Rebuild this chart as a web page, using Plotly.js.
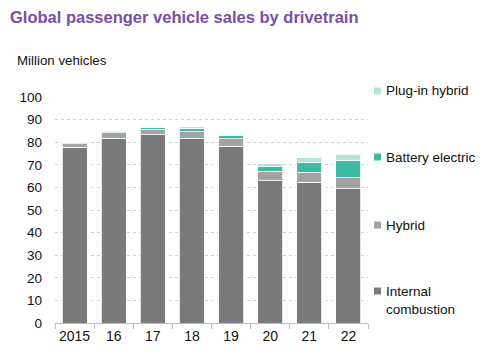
<!DOCTYPE html>
<html>
<head>
<meta charset="utf-8">
<script src="https://cdn.plot.ly/plotly-3.0.1.min.js"></script>
<style>html,body{margin:0;padding:0;background:#fff;}#chart{width:486px;height:356px;}</style>
</head>
<body>
<div id="chart"></div>
<script>
var years = ["2015", "16", "17", "18", "19", "20", "21", "22"];
var internalCombustion = [77.8, 81.8, 83.3, 81.8, 78.1, 63.0, 62.2, 59.3];
var hybrid = [1.5, 2.4, 2.5, 3.1, 3.4, 4.1, 4.6, 5.0];
var batteryElectric = [0.4, 0.5, 0.9, 1.2, 1.5, 2.1, 4.3, 7.4];
var plugInHybrid = [0.3, 0.3, 0.4, 0.7, 0.6, 1.2, 2.1, 3.0];
var seriesNames = ["Internal<br>combustion", "Hybrid", "Battery electric", "Plug-in hybrid"];
var seriesColors = ["#7a7a7a", "#a3a3a3", "#3fbba5", "#b2e4dc"];
var legendY = [300, 225, 157, 91];

var FONT = "Liberation Sans, Arial, sans-serif";
var seriesValues = [internalCombustion, hybrid, batteryElectric, plugInHybrid];
var traces = seriesValues.map(function (vals, i) {
  return {
    type: "bar",
    x: years,
    y: vals,
    name: seriesNames[i],
    marker: { color: seriesColors[i], line: { color: "#ffffff", width: 0.8 } }
  };
});
// empty helper trace so the boundary-tick axis is drawn
traces.push({ type: "scatter", x: [], y: [], xaxis: "x2", yaxis: "y", showlegend: false });

var boundaryTicks = years.map(function (_, i) { return i - 0.5; }).concat([years.length - 0.5]);

var annotations = [];
var shapes = [];
seriesNames.forEach(function (n, i) {
  var ty = legendY[i];
  var multi = n.indexOf("<br>") >= 0;
  var sqY = multi ? ty - 9 : ty;
  shapes.push({ type: "rect", xref: "paper", yref: "paper",
    x0: (374 - 55) / 313, x1: (381 - 55) / 313,
    y0: (323 - (sqY + 3.5)) / 226, y1: (323 - (sqY - 3.5)) / 226,
    fillcolor: seriesColors[i], line: { width: 0 } });
  annotations.push({ xref: "paper", yref: "paper",
    x: (384 - 55) / 313, y: (323 - ty) / 226,
    xanchor: "left", yanchor: "middle", align: "left",
    text: n, showarrow: false,
    font: { family: FONT, size: 13.5, color: "#111" } });
});
annotations.push({ xref: "paper", yref: "paper", x: (15 - 55) / 313, y: (323 - 60) / 226,
  xanchor: "left", yanchor: "middle", text: "Million vehicles", showarrow: false,
  font: { family: FONT, size: 13.3, color: "#111" } });

var layout = {
  width: 486, height: 356,
  margin: { l: 55, r: 118, t: 97, b: 33 },
  paper_bgcolor: "#ffffff", plot_bgcolor: "#ffffff",
  barmode: "stack", bargap: 0.36,
  showlegend: false,
  title: { text: "<b>Global passenger vehicle sales by drivetrain</b>",
    x: 10 / 486, xanchor: "left", y: 1 - 17 / 356, yanchor: "middle",
    font: { family: FONT, size: 16.5, color: "#7b4ea6" } },
  font: { family: FONT, size: 13, color: "#111" },
  xaxis: { type: "category", showline: true, linecolor: "#bbbbbb", linewidth: 1,
    ticks: "", showgrid: false, tickangle: 0, automargin: false,
    tickfont: { size: 14, color: "#111" } },
  xaxis2: { overlaying: "x", anchor: "y", side: "bottom", range: [-0.5, years.length - 0.5],
    tickmode: "array", tickvals: boundaryTicks, showticklabels: false,
    ticks: "outside", ticklen: 5, tickcolor: "#bbbbbb", tickwidth: 1,
    showgrid: false, zeroline: false, showline: false, fixedrange: true },
  yaxis: { range: [0, 100], dtick: 10, showgrid: true, gridcolor: "#d0d0d0",
    griddash: "dot", gridwidth: 1, zeroline: false, showline: false,
    ticks: "", ticklabelstandoff: 12, tickfont: { size: 13.5, color: "#111" } },
  annotations: annotations,
  shapes: shapes
};

Plotly.newPlot("chart", traces, layout, { displayModeBar: false, staticPlot: true });
</script>
</body>
</html>
